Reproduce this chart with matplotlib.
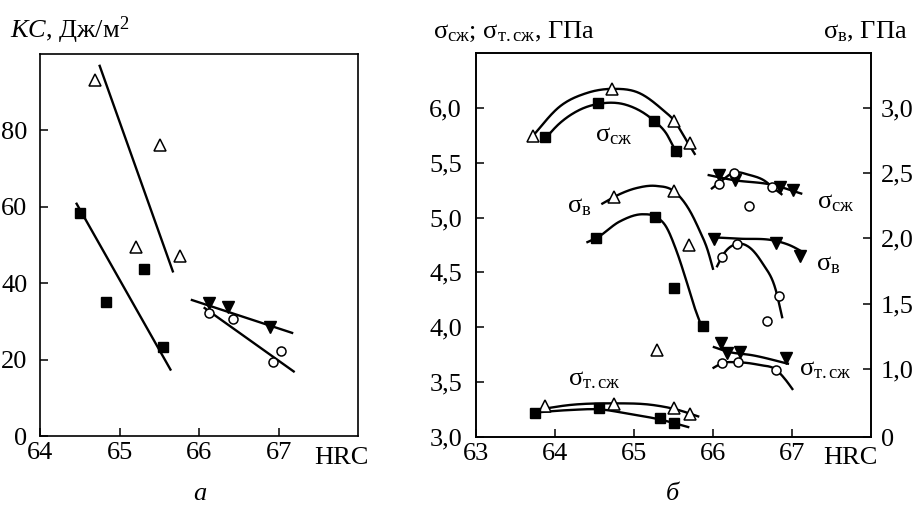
import numpy as np
import matplotlib
matplotlib.use('Agg')
import matplotlib.pyplot as plt

plt.rcParams['font.family'] = ['Liberation Serif', 'DejaVu Serif']
plt.rcParams['mathtext.fontset'] = 'custom'
plt.rcParams['mathtext.rm'] = 'Liberation Serif'
plt.rcParams['mathtext.it'] = 'Liberation Serif:italic'
plt.rcParams['font.size'] = 19

# ---- panel a: KC vs HRC ----
tri_hrc = [64.69, 65.51, 65.21, 65.76]
tri_kc = [93.2, 76.1, 49.4, 47.0]
tri_line = ([64.75, 65.67], [96.9, 43.1])

sq_hrc = [64.50, 64.83, 65.31, 65.55]
sq_kc = [58.4, 35.1, 43.6, 23.4]
sq_line = ([64.46, 65.64], [60.8, 17.4])

dn_hrc = [66.12, 66.36, 66.89]
dn_kc = [34.8, 33.7, 28.6]
dn_line = ([65.91, 67.17], [35.6, 27.0])

ci_hrc = [66.12, 66.43, 66.93, 67.03]
ci_kc = [32.2, 30.6, 19.4, 22.2]
ci_line = ([66.07, 67.19], [33.5, 16.9])

# ---- panel b: strengths vs HRC ----
# sigma_c (left axis, GPa); *_cx/*_cy are points
sc_tri_x = [63.72, 64.72, 65.51, 65.71]
sc_tri_y = [5.74, 6.17, 5.88, 5.68]
sc_tri_cx = [63.66, 63.715, 64.06, 64.397, 64.725, 65.069, 65.363, 65.511, 65.659, 65.776]
sc_tri_cy = [5.693, 5.739, 6.012, 6.134, 6.173, 6.134, 5.982, 5.881, 5.708, 5.571]

sc_sq_x = [63.87, 64.55, 65.25, 65.53]
sc_sq_y = [5.73, 6.04, 5.88, 5.61]
sc_sq_cx = [63.841, 64.06, 64.312, 64.548, 64.902, 65.25, 65.406, 65.527, 65.596]
sc_sq_cy = [5.693, 5.860, 5.982, 6.036, 6.027, 5.884, 5.769, 5.611, 5.551]

sc_dn_x = [66.07, 66.28, 66.85, 67.01]
sc_dn_y = [5.39, 5.34, 5.28, 5.25]
sc_dn_cx = [65.931, 66.247, 66.752, 67.130]
sc_dn_cy = [5.389, 5.343, 5.298, 5.216]

sc_ci_x = [66.07, 66.27, 66.75, 66.45]
sc_ci_y = [5.31, 5.41, 5.28, 5.11]
sc_ci_cx = [65.974, 66.058, 66.268, 66.457, 66.668, 66.752, 66.878]
sc_ci_cy = [5.259, 5.307, 5.410, 5.389, 5.328, 5.277, 5.207]

# sigma_b (right axis, GPa)
sb_tri_x = [64.75, 65.50, 65.70, 65.29]
sb_tri_y = [2.316, 2.366, 1.95, 1.146]
sb_tri_cx = [64.586, 64.754, 65.028, 65.280, 65.511, 65.700, 65.826, 65.931, 66.003]
sb_tri_cy = [2.262, 2.320, 2.385, 2.402, 2.359, 2.218, 2.065, 1.912, 1.759]

sb_sq_x = [64.52, 65.27, 65.50, 65.87]
sb_sq_y = [2.0, 2.165, 1.618, 1.33]
sb_sq_cx = [64.397, 64.523, 64.817, 65.111, 65.271, 65.406, 65.533, 65.659, 65.763, 65.848]
sb_sq_cy = [1.968, 2.002, 2.129, 2.185, 2.167, 2.090, 1.912, 1.682, 1.477, 1.337]

sb_dn_x = [66.016, 66.802, 67.097]
sb_dn_y = [1.994, 1.963, 1.866]
sb_dn_cx = [65.974, 66.331, 66.794, 66.962, 67.164]
sb_dn_cy = [2.009, 1.998, 1.981, 1.950, 1.887]

sb_ci_x = [66.113, 66.302, 66.836, 66.688]
sb_ci_y = [1.861, 1.958, 1.559, 1.368]
sb_ci_cx = [66.045, 66.113, 66.302, 66.457, 66.625, 66.794, 66.878]
sb_ci_cy = [1.779, 1.861, 1.958, 1.933, 1.810, 1.605, 1.388]

# sigma_yc (left axis, GPa)
sy_dn_x = [66.10, 66.18, 66.34, 66.92]
sy_dn_y = [3.86, 3.763, 3.772, 3.717]
sy_dn_cx = [65.997, 66.2, 66.5, 66.962]
sy_dn_cy = [3.823, 3.776, 3.745, 3.666]

sy_ci_x = [66.113, 66.31, 66.802]
sy_ci_y = [3.672, 3.681, 3.611]
sy_ci_cx = [65.994, 66.113, 66.31, 66.584, 66.802, 66.92, 67.013]
sy_ci_cy = [3.626, 3.672, 3.681, 3.657, 3.611, 3.52, 3.429]

sy_tri_x = [63.871, 64.741, 65.511, 65.709]
sy_tri_y = [3.283, 3.301, 3.262, 3.210]
sy_tri_cx = [63.808, 64.186, 64.733, 65.237, 65.532, 65.826]
sy_tri_cy = [3.252, 3.292, 3.307, 3.292, 3.252, 3.185]

sy_sq_x = [63.744, 64.552, 65.33, 65.511]
sy_sq_y = [3.222, 3.262, 3.170, 3.125]
sy_sq_cx = [63.723, 64.186, 64.565, 64.943, 65.322, 65.700]
sy_sq_cy = [3.222, 3.246, 3.252, 3.210, 3.161, 3.088]

left_ticks = [3.0, 3.5, 4.0, 4.5, 5.0, 5.5, 6.0]
right_bottom = 0.479   # bottom of right axis, labelled "0"
right_ticks = [1.0, 1.5, 2.0, 2.5, 3.0]

LW = 1.7
marks = {
    'tri': dict(marker='^', ms=8, mfc='white', mec='black', mew=1.1),
    'sq': dict(marker='s', ms=6.5, mfc='black', mec='black'),
    'dn': dict(marker='v', ms=8.5, mfc='black', mec='black'),
    'ci': dict(marker='o', ms=6.5, mfc='white', mec='black', mew=1.1),
}


def style(ax):
    ax.tick_params(direction='in', length=6, width=1.1, pad=6)
    for s in ax.spines.values():
        s.set_linewidth(1.2)


def curve(ax, cx, cy):
    # smooth cubic Hermite through the points
    x = np.asarray(cx, float)
    y = np.asarray(cy, float)
    m = np.gradient(y, x)
    xs, ys = [], []
    for i in range(len(x) - 1):
        h = x[i + 1] - x[i]
        t = np.linspace(0, 1, 30)
        h00 = 2*t**3 - 3*t**2 + 1
        h10 = t**3 - 2*t**2 + t
        h01 = -2*t**3 + 3*t**2
        h11 = t**3 - t**2
        xs.append(x[i] + t*h)
        ys.append(h00*y[i] + h10*h*m[i] + h01*y[i + 1] + h11*h*m[i + 1])
    ax.plot(np.concatenate(xs), np.concatenate(ys), color='black', lw=LW,
            zorder=2, solid_capstyle='butt')


def fmt(v):
    return f'{v:.1f}'.replace('.', ',')


fig = plt.figure(figsize=(9.14, 5.07), dpi=100)

# panel a
ax = fig.add_axes([0.0438, 0.140, 0.348, 0.7535])
style(ax)
for lx, ly in [tri_line, sq_line, dn_line, ci_line]:
    ax.plot(lx, ly, color='black', lw=LW, zorder=2)
ax.plot(tri_hrc, tri_kc, ls='none', zorder=3, **marks['tri'])
ax.plot(sq_hrc, sq_kc, ls='none', zorder=3, **marks['sq'])
ax.plot(dn_hrc, dn_kc, ls='none', zorder=3, **marks['dn'])
ax.plot(ci_hrc, ci_kc, ls='none', zorder=3, **marks['ci'])
ax.set_xlim(64, 68)
ax.set_ylim(0, 100)
ax.set_xticks([64, 65, 66, 67])
ax.set_yticks([0, 20, 40, 60, 80])
ax.tick_params(axis='x', pad=4)
ax.tick_params(axis='y', pad=9)

fig.text(0.011, 0.941, r'$\mathit{KC}$, Дж/м$^2$', ha='left', va='center')
fig.text(0.373, 0.097, 'HRC', ha='center', va='center')
fig.text(0.219, 0.025, 'а', ha='center', va='center', style='italic')

# panel b
bx = fig.add_axes([0.5208, 0.138, 0.4322, 0.7575])
style(bx)
br = bx.twinx()
style(br)

for a, cx, cy in [(bx, sc_tri_cx, sc_tri_cy), (bx, sc_sq_cx, sc_sq_cy),
                  (bx, sc_dn_cx, sc_dn_cy), (bx, sc_ci_cx, sc_ci_cy),
                  (br, sb_tri_cx, sb_tri_cy), (br, sb_sq_cx, sb_sq_cy),
                  (br, sb_dn_cx, sb_dn_cy), (br, sb_ci_cx, sb_ci_cy),
                  (bx, sy_dn_cx, sy_dn_cy), (bx, sy_ci_cx, sy_ci_cy),
                  (bx, sy_tri_cx, sy_tri_cy), (bx, sy_sq_cx, sy_sq_cy)]:
    curve(a, cx, cy)

for a, x, y, m in [(bx, sc_tri_x, sc_tri_y, 'tri'), (bx, sc_sq_x, sc_sq_y, 'sq'),
                   (bx, sc_dn_x, sc_dn_y, 'dn'), (bx, sc_ci_x, sc_ci_y, 'ci'),
                   (br, sb_tri_x, sb_tri_y, 'tri'), (br, sb_sq_x, sb_sq_y, 'sq'),
                   (br, sb_dn_x, sb_dn_y, 'dn'), (br, sb_ci_x, sb_ci_y, 'ci'),
                   (bx, sy_dn_x, sy_dn_y, 'dn'), (bx, sy_ci_x, sy_ci_y, 'ci'),
                   (bx, sy_tri_x, sy_tri_y, 'tri'), (bx, sy_sq_x, sy_sq_y, 'sq')]:
    a.plot(x, y, ls='none', zorder=3, **marks[m])

bx.set_xlim(63, 68)
bx.set_ylim(3.0, 6.5)
bx.set_xticks([63, 64, 65, 66, 67])
bx.set_yticks(left_ticks)
bx.set_yticklabels([fmt(v) for v in left_ticks])
bx.tick_params(axis='x', pad=4)
bx.tick_params(axis='y', pad=10)
br.set_ylim(right_bottom, 3.42)
br.set_yticks([right_bottom] + right_ticks)
br.set_yticklabels(['0'] + [fmt(v) for v in right_ticks])
br.tick_params(axis='y', pad=7)

sc = r'$\mathrm{σ}_{\mathrm{сж}}$'
sb = r'$\mathrm{σ}_{\mathrm{в}}$'
sy = r'$\mathrm{σ}_{\mathrm{т.сж}}$'
bx.text(64.50, 5.74, sc, ha='left', va='center')
bx.text(64.15, 5.10, sb, ha='left', va='center')
bx.text(67.32, 5.13, sc, ha='left', va='center')
bx.text(67.30, 4.57, sb, ha='left', va='center')
bx.text(67.09, 3.61, sy, ha='left', va='center')
bx.text(64.16, 3.52, sy, ha='left', va='center')

fig.text(0.474, 0.937, r'$\mathrm{σ}_{\mathrm{сж}}$; $\mathrm{σ}_{\mathrm{т.сж}}$, ГПа',
         ha='left', va='center')
fig.text(0.993, 0.937, r'$\mathrm{σ}_{\mathrm{в}}$, ГПа', ha='right', va='center')
fig.text(0.930, 0.097, 'HRC', ha='center', va='center')
fig.text(0.736, 0.025, 'б', ha='center', va='center', style='italic')

fig.savefig('out.png', dpi=100)
